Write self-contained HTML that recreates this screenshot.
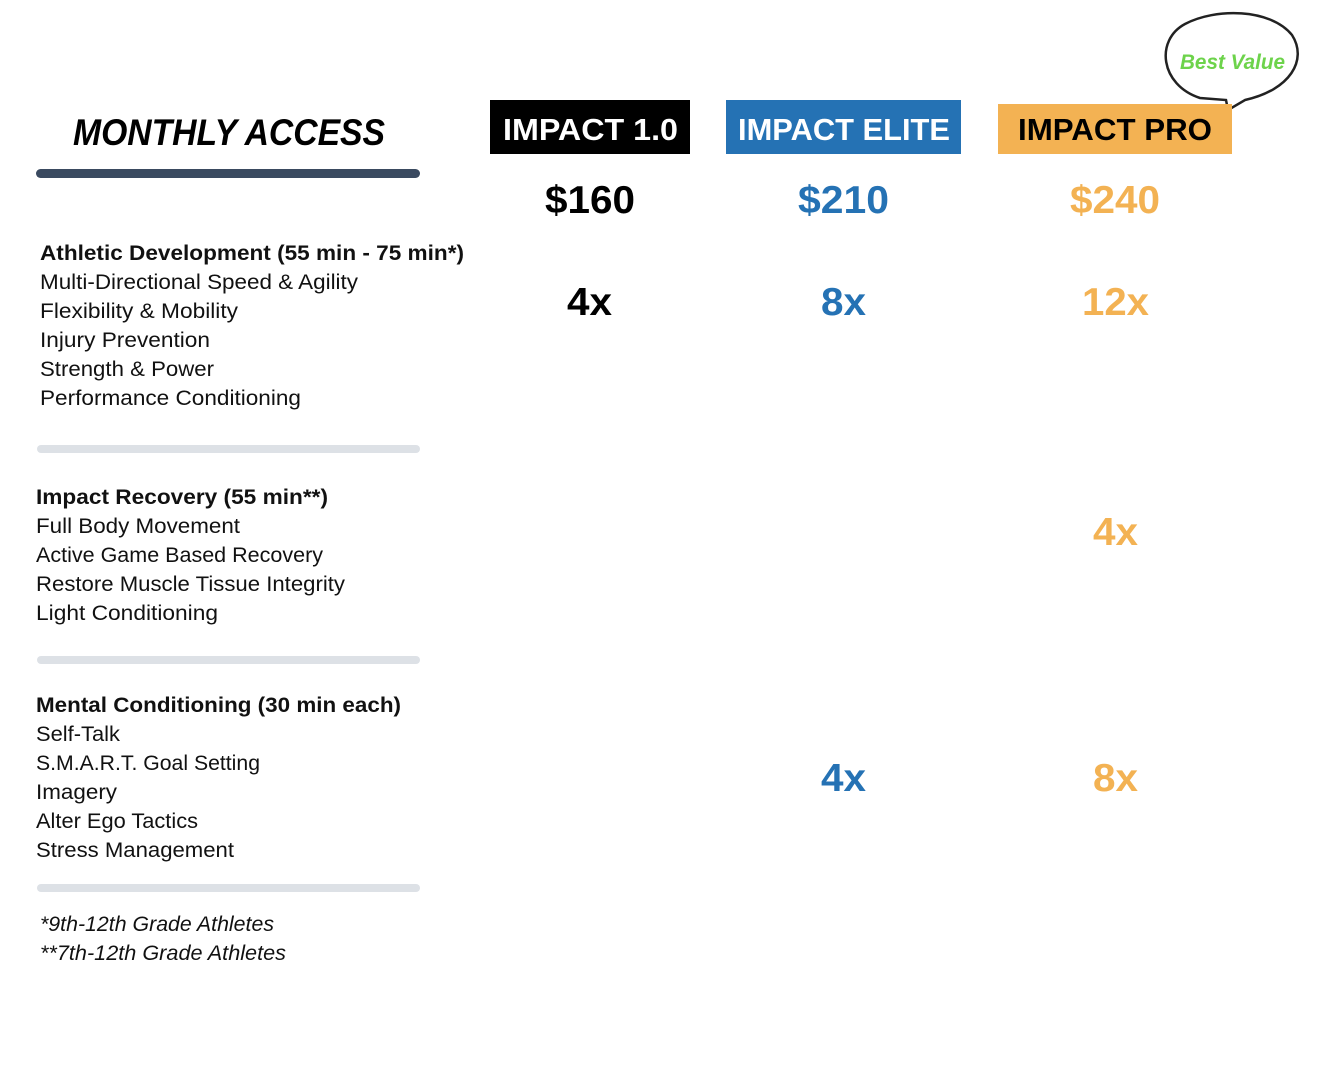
<!DOCTYPE html>
<html><head><meta charset="utf-8"><style>
html,body{margin:0;padding:0;background:#fff;}
svg{display:block;font-family:"Liberation Sans",sans-serif;}
</style></head><body>
<svg width="1342" height="1080" viewBox="0 0 1342 1080">
<text x="73" y="145" font-size="37" font-weight="bold" font-style="italic" textLength="312" lengthAdjust="spacingAndGlyphs">MONTHLY ACCESS</text>
<rect x="36" y="169" width="384" height="9" rx="4.5" fill="#3a4a60"/>

<g>
<path d="M1200,98 C1160,85 1155,40 1185,24 C1215,8 1270,8 1292,35 C1308,60 1290,90 1245,100 L1228,110 L1226,100 Z" fill="#fff" stroke="#222" stroke-width="2.5"/>
<text x="1180" y="69" font-size="21" font-weight="bold" font-style="italic" fill="#6dd34b" textLength="105" lengthAdjust="spacingAndGlyphs">Best Value</text>
</g>

<rect x="490" y="100" width="200" height="54" fill="#000"/>
<text x="503" y="140" font-size="31" font-weight="bold" fill="#fff" textLength="175" lengthAdjust="spacingAndGlyphs">IMPACT 1.0</text>
<rect x="726" y="100" width="235" height="54" fill="#2572b4"/>
<text x="738" y="140" font-size="31" font-weight="bold" fill="#fff" textLength="212" lengthAdjust="spacingAndGlyphs">IMPACT ELITE</text>
<rect x="998" y="104" width="234" height="50" fill="#f3b253"/>
<text x="1018" y="140" font-size="31" font-weight="bold" fill="#000" textLength="194" lengthAdjust="spacingAndGlyphs">IMPACT PRO</text>

<g font-size="39" font-weight="bold">
<text x="545" y="213" textLength="90" lengthAdjust="spacingAndGlyphs" fill="#000">$160</text>
<text x="798" y="213" textLength="91" lengthAdjust="spacingAndGlyphs" fill="#2572b4">$210</text>
<text x="1070" y="213" textLength="90" lengthAdjust="spacingAndGlyphs" fill="#f3b253">$240</text>
<text x="567" y="315" textLength="45" lengthAdjust="spacingAndGlyphs" fill="#000">4x</text>
<text x="821" y="315" textLength="45" lengthAdjust="spacingAndGlyphs" fill="#2572b4">8x</text>
<text x="1082" y="315" textLength="67" lengthAdjust="spacingAndGlyphs" fill="#f3b253">12x</text>
<text x="1093" y="545" textLength="45" lengthAdjust="spacingAndGlyphs" fill="#f3b253">4x</text>
<text x="821" y="791" textLength="45" lengthAdjust="spacingAndGlyphs" fill="#2572b4">4x</text>
<text x="1093" y="791" textLength="45" lengthAdjust="spacingAndGlyphs" fill="#f3b253">8x</text>
</g>

<g font-size="21" fill="#111" lengthAdjust="spacingAndGlyphs">
<text x="40" y="260" font-weight="bold" textLength="424" lengthAdjust="spacingAndGlyphs">Athletic Development (55 min - 75 min*)</text>
<text x="40" y="289" textLength="318" lengthAdjust="spacingAndGlyphs">Multi-Directional Speed &amp; Agility</text>
<text x="40" y="318" textLength="198" lengthAdjust="spacingAndGlyphs">Flexibility &amp; Mobility</text>
<text x="40" y="347" textLength="170" lengthAdjust="spacingAndGlyphs">Injury Prevention</text>
<text x="40" y="376" textLength="174" lengthAdjust="spacingAndGlyphs">Strength &amp; Power</text>
<text x="40" y="405" textLength="261" lengthAdjust="spacingAndGlyphs">Performance Conditioning</text>

<text x="36" y="504" font-weight="bold" textLength="292" lengthAdjust="spacingAndGlyphs">Impact Recovery (55 min**)</text>
<text x="36" y="533" textLength="204" lengthAdjust="spacingAndGlyphs">Full Body Movement</text>
<text x="36" y="562" textLength="287" lengthAdjust="spacingAndGlyphs">Active Game Based Recovery</text>
<text x="36" y="591" textLength="309" lengthAdjust="spacingAndGlyphs">Restore Muscle Tissue Integrity</text>
<text x="36" y="620" textLength="182" lengthAdjust="spacingAndGlyphs">Light Conditioning</text>

<text x="36" y="712" font-weight="bold" textLength="365" lengthAdjust="spacingAndGlyphs">Mental Conditioning (30 min each)</text>
<text x="36" y="741" textLength="84" lengthAdjust="spacingAndGlyphs">Self-Talk</text>
<text x="36" y="770" textLength="224" lengthAdjust="spacingAndGlyphs">S.M.A.R.T. Goal Setting</text>
<text x="36" y="799" textLength="81" lengthAdjust="spacingAndGlyphs">Imagery</text>
<text x="36" y="828" textLength="162" lengthAdjust="spacingAndGlyphs">Alter Ego Tactics</text>
<text x="36" y="857" textLength="198" lengthAdjust="spacingAndGlyphs">Stress Management</text>

<text x="40" y="931" font-style="italic" textLength="234" lengthAdjust="spacingAndGlyphs">*9th-12th Grade Athletes</text>
<text x="40" y="960" font-style="italic" textLength="246" lengthAdjust="spacingAndGlyphs">**7th-12th Grade Athletes</text>
</g>

<rect x="37" y="445" width="383" height="8" rx="4" fill="#dde1e6"/>
<rect x="37" y="656" width="383" height="8" rx="4" fill="#dde1e6"/>
<rect x="37" y="884" width="383" height="8" rx="4" fill="#dde1e6"/>
</svg>
</body></html>
